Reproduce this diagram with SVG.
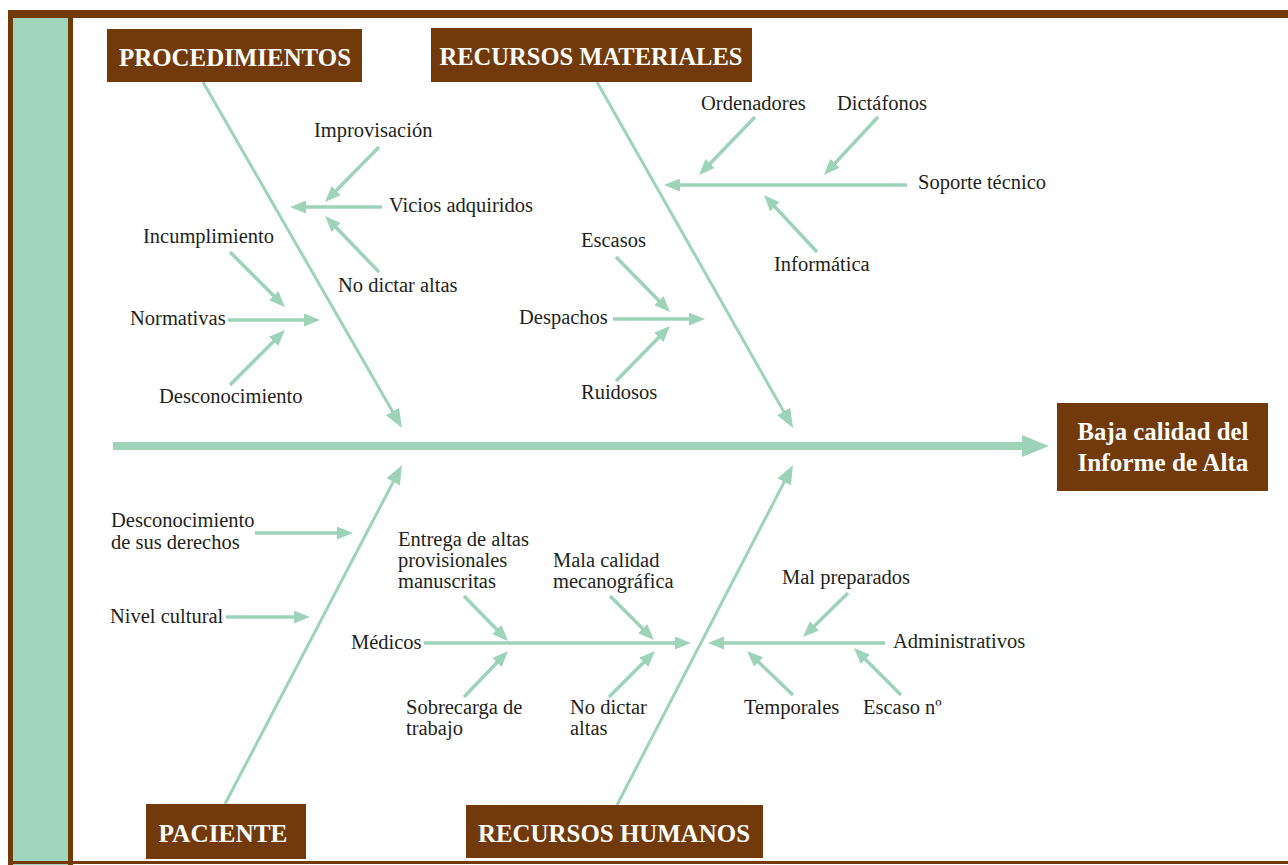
<svg xmlns="http://www.w3.org/2000/svg" width="1288" height="865" viewBox="0 0 1288 865">
<style>
.lbl{font-family:"Liberation Serif","Times New Roman",serif;font-size:20.5px;fill:#231f20}
.hdr{font-family:"Liberation Serif","Times New Roman",serif;font-size:24.5px;font-weight:bold;fill:#ffffff;text-anchor:middle}
.box{fill:#723a0a}
.sub{stroke:#9dd4b9;stroke-width:3.5;fill:none;marker-end:url(#a)}
.bone{stroke:#9dd4b9;stroke-width:3;fill:none;marker-end:url(#b)}
</style>
<defs>
<marker id="a" markerUnits="userSpaceOnUse" viewBox="0 0 16 13" markerWidth="16" markerHeight="13" refX="8" refY="6.5" orient="auto"><path d="M0,0 L16,6.5 L0,13 z" fill="#9dd4b9"/></marker>
<marker id="b" markerUnits="userSpaceOnUse" viewBox="0 0 19 15" markerWidth="19" markerHeight="15" refX="9" refY="7.5" orient="auto"><path d="M0,0 L19,7.5 L0,15 z" fill="#9dd4b9"/></marker>
</defs>
<rect width="1288" height="865" fill="#ffffff"/>
<g id="frame">
<rect x="8" y="10" width="1280" height="8" fill="#723a0a"/>
<rect x="8" y="10" width="65" height="855" fill="#723a0a"/>
<rect x="13" y="18" width="55" height="847" fill="#9fd5bb"/>
<rect x="8" y="861" width="1280" height="3" fill="#723a0a"/>
</g>
<g id="connectors">
<rect x="113" y="442" width="910" height="8" fill="#9dd4b9"/>
<polygon points="1022,435 1049,446 1022,457" fill="#9dd4b9"/>
<line class="bone" x1="203" y1="82" x2="397" y2="419.3"/>
<line class="bone" x1="597" y1="82" x2="788.1" y2="419.3"/>
<line class="bone" x1="225" y1="804" x2="397.4" y2="473.9"/>
<line class="bone" x1="617" y1="805" x2="788.4" y2="473.9"/>
<line class="sub" x1="379" y1="147" x2="330.6" y2="196.3"/>
<line class="sub" x1="382" y1="207" x2="298" y2="207"/>
<line class="sub" x1="379" y1="272" x2="330.6" y2="221.8"/>
<line class="sub" x1="230" y1="252" x2="279.3" y2="301.3"/>
<line class="sub" x1="228" y1="320" x2="312" y2="320"/>
<line class="sub" x1="230" y1="385" x2="279.3" y2="335.7"/>
<line class="sub" x1="755" y1="117" x2="704.6" y2="169.2"/>
<line class="sub" x1="878" y1="117" x2="829.5" y2="169.1"/>
<line class="sub" x1="907" y1="185" x2="672" y2="185"/>
<line class="sub" x1="817" y1="252" x2="769.4" y2="200.9"/>
<line class="sub" x1="616" y1="257" x2="664.4" y2="306.3"/>
<line class="sub" x1="613" y1="319" x2="697" y2="319"/>
<line class="sub" x1="616" y1="381" x2="664.4" y2="331.7"/>
<line class="sub" x1="255" y1="533" x2="345" y2="533"/>
<line class="sub" x1="226" y1="617" x2="302" y2="617"/>
<line class="sub" x1="424" y1="643" x2="683" y2="643"/>
<line class="sub" x1="464" y1="596" x2="502.4" y2="635.3"/>
<line class="sub" x1="610" y1="596" x2="648.3" y2="634.3"/>
<line class="sub" x1="464" y1="697" x2="502.5" y2="656.8"/>
<line class="sub" x1="609" y1="697" x2="649.3" y2="656.7"/>
<line class="sub" x1="848" y1="593" x2="808.7" y2="631.4"/>
<line class="sub" x1="885" y1="643" x2="716" y2="643"/>
<line class="sub" x1="793" y1="695" x2="752.8" y2="656.5"/>
<line class="sub" x1="901" y1="695" x2="859.7" y2="653.7"/>
</g>
<g id="effect">
<rect class="box" x="1057" y="403" width="211" height="88"/>
<text class="hdr" x="1163" y="440" textLength="171" lengthAdjust="spacingAndGlyphs">Baja calidad del</text>
<text class="hdr" x="1163" y="471" textLength="171" lengthAdjust="spacingAndGlyphs">Informe de Alta</text>
</g>
<g id="procedimientos">
<rect class="box" x="107" y="29" width="255" height="53"/>
<text class="hdr" x="235" y="66" textLength="232" lengthAdjust="spacingAndGlyphs">PROCEDIMIENTOS</text>
</g>
<g id="recursos-materiales">
<rect class="box" x="431" y="28" width="321" height="54"/>
<text class="hdr" x="591" y="65" textLength="303" lengthAdjust="spacingAndGlyphs">RECURSOS MATERIALES</text>
</g>
<g id="paciente">
<rect class="box" x="146" y="804" width="160" height="55"/>
<text class="hdr" x="223" y="842" textLength="129" lengthAdjust="spacingAndGlyphs">PACIENTE</text>
</g>
<g id="recursos-humanos">
<rect class="box" x="466" y="805" width="297" height="53"/>
<text class="hdr" x="614" y="842" textLength="272" lengthAdjust="spacingAndGlyphs">RECURSOS HUMANOS</text>
</g>
<g id="labels-procedimientos">
<text class="lbl" x="314" y="137">Improvisación</text>
<text class="lbl" x="389" y="212">Vicios adquiridos</text>
<text class="lbl" x="338" y="292">No dictar altas</text>
<text class="lbl" x="143" y="243">Incumplimiento</text>
<text class="lbl" x="130" y="325">Normativas</text>
<text class="lbl" x="159" y="403">Desconocimiento</text>
</g>
<g id="labels-recursos-materiales">
<text class="lbl" x="701" y="110">Ordenadores</text>
<text class="lbl" x="837" y="110">Dictáfonos</text>
<text class="lbl" x="918" y="189">Soporte técnico</text>
<text class="lbl" x="774" y="271">Informática</text>
<text class="lbl" x="581" y="247">Escasos</text>
<text class="lbl" x="519" y="324">Despachos</text>
<text class="lbl" x="581" y="399">Ruidosos</text>
</g>
<g id="labels-paciente">
<text class="lbl" x="111" y="527">Desconocimiento<tspan x="111" y="549">de sus derechos</tspan></text>
<text class="lbl" x="110" y="623">Nivel cultural</text>
</g>
<g id="labels-recursos-humanos">
<text class="lbl" x="351" y="649">Médicos</text>
<text class="lbl" x="398" y="546">Entrega de altas<tspan x="398" y="567">provisionales</tspan><tspan x="398" y="588">manuscritas</tspan></text>
<text class="lbl" x="553" y="567">Mala calidad<tspan x="553" y="588">mecanográfica</tspan></text>
<text class="lbl" x="406" y="714">Sobrecarga de<tspan x="406" y="735">trabajo</tspan></text>
<text class="lbl" x="570" y="714">No dictar<tspan x="570" y="735">altas</tspan></text>
<text class="lbl" x="782" y="584">Mal preparados</text>
<text class="lbl" x="893" y="648">Administrativos</text>
<text class="lbl" x="744" y="714">Temporales</text>
<text class="lbl" x="863" y="714">Escaso nº</text>
</g>
</svg>
